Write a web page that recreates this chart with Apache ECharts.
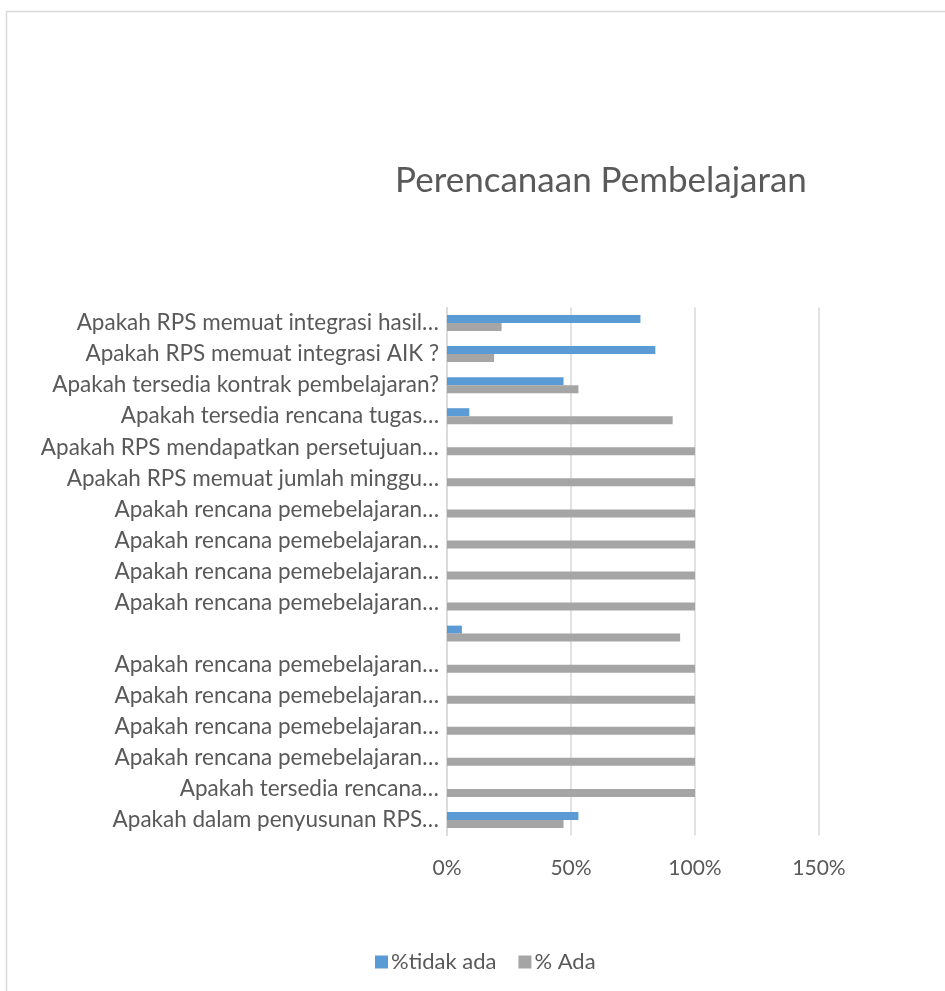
<!DOCTYPE html>
<html>
<head>
<meta charset="utf-8">
<script src="https://cdn.jsdelivr.net/npm/echarts@6/dist/echarts.min.js"></script>
<style>
html,body{margin:0;padding:0;background:#fff;}
#chart{width:945px;height:991px;}
</style>
</head>
<body>
<div id="chart"></div>
<script>
// Categories listed top to bottom as in the reference
var categories = [
  'Apakah RPS memuat integrasi hasil…',
  'Apakah RPS memuat integrasi AIK ?',
  'Apakah tersedia kontrak pembelajaran?',
  'Apakah tersedia rencana tugas…',
  'Apakah RPS mendapatkan persetujuan…',
  'Apakah RPS memuat jumlah minggu…',
  'Apakah rencana pemebelajaran…',
  'Apakah rencana pemebelajaran…',
  'Apakah rencana pemebelajaran…',
  'Apakah rencana pemebelajaran…',
  '',
  'Apakah rencana pemebelajaran…',
  'Apakah rencana pemebelajaran…',
  'Apakah rencana pemebelajaran…',
  'Apakah rencana pemebelajaran…',
  'Apakah tersedia rencana…',
  'Apakah dalam penyusunan RPS…'
];
var tidakAda = [78, 84, 47, 9, 0, 0, 0, 0, 0, 0, 6, 0, 0, 0, 0, 0, 53];
var ada = [22, 19, 53, 91, 100, 100, 100, 100, 100, 100, 94, 100, 100, 100, 100, 100, 47];
var seriesNames = ['%tidak ada', '% Ada'];
var xTicks = [0, 50, 100, 150];

var FONT = 'Lato';
var chart = echarts.init(document.getElementById('chart'));
chart.setOption({
  animation: false,
  backgroundColor: '#ffffff',
  graphic: [{
    type: 'rect',
    shape: {x: 6.5, y: 11.5, width: 2000, height: 2000},
    style: {fill: 'none', stroke: '#d9d9d9', lineWidth: 1.5},
    silent: true
  }],
  title: {
    text: 'Perencanaan Pembelajaran',
    left: 596, top: 158,
    textAlign: 'center',
    textStyle: {fontFamily: FONT, fontSize: 35, fontWeight: 'normal', color: '#595959'}
  },
  legend: {
    data: seriesNames,
    left: 370,
    top: 946,
    icon: 'rect',
    itemWidth: 13,
    itemHeight: 13,
    itemGap: 22,
    textStyle: {fontFamily: FONT, fontSize: 22, color: '#595959', padding: [0, 0, 0, -2]}
  },
  grid: {left: 447, right: 126, top: 307.5, bottom: 155.5, containLabel: false},
  xAxis: {
    type: 'value',
    min: xTicks[0],
    max: xTicks[xTicks.length - 1],
    interval: 50,
    axisLine: {show: false},
    axisTick: {show: false},
    splitLine: {show: true, lineStyle: {color: '#d9d9d9', width: 1.5}},
    axisLabel: {
      formatter: '{value}%',
      fontFamily: FONT, fontSize: 21, color: '#595959', margin: 22
    }
  },
  yAxis: {
    type: 'category',
    inverse: true,
    data: categories,
    axisLine: {show: true, lineStyle: {color: '#d9d9d9', width: 1.5}},
    axisTick: {show: false},
    axisLabel: {fontFamily: FONT, fontSize: 22.5, color: '#595959', margin: 8, interval: 0}
  },
  series: [{
    name: seriesNames[0],
    type: 'bar',
    data: tidakAda,
    barWidth: 8,
    barGap: '0%',
    itemStyle: {color: '#5b9bd5'}
  }, {
    name: seriesNames[1],
    type: 'bar',
    data: ada,
    barWidth: 8,
    barGap: '0%',
    itemStyle: {color: '#a5a5a5'}
  }]
});
</script>
</body>
</html>
